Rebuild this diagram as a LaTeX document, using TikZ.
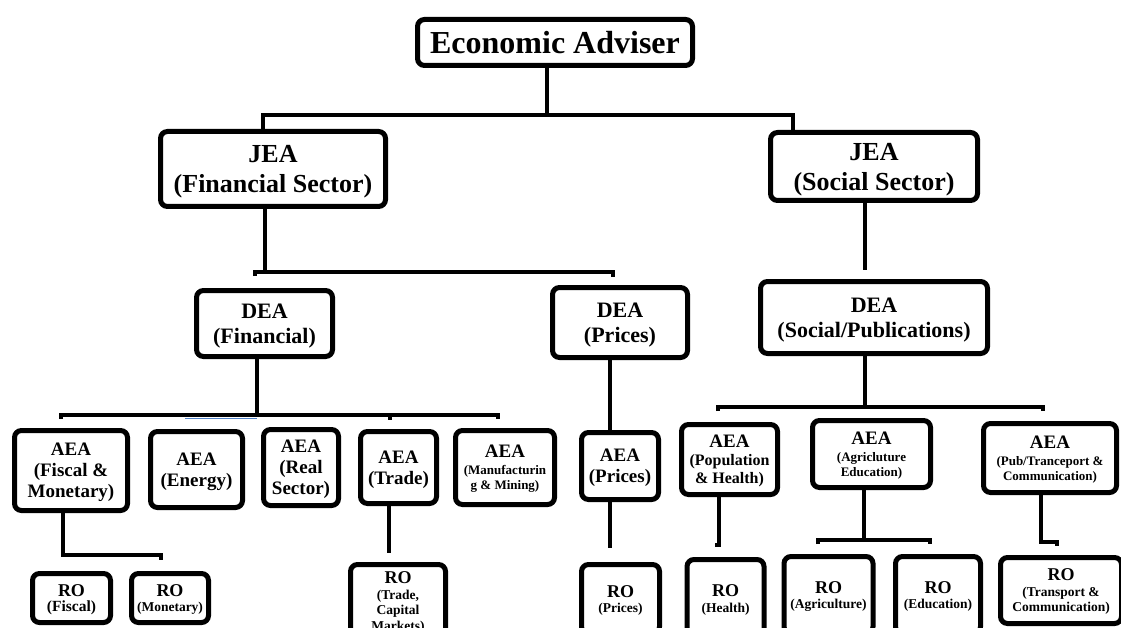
\documentclass[tikz,border=0pt]{standalone}
\usepackage{fontspec}
\setmainfont{Liberation Serif}
\newcommand\fsz[2]{\fontsize{#1}{#2}\selectfont}
\begin{document}
\begin{tikzpicture}[x=1pt,y=-1pt,
  box/.style={draw, line width=5pt, rounded corners=7pt, align=center, inner sep=0pt, text depth=0pt},
  toptitle/.style={font=\bfseries\fsz{32}{36}},
  jea/.style={font=\bfseries\fsz{26}{30}},
  dea/.style={font=\bfseries\fsz{22}{25}},
  aea/.style={font=\bfseries\fsz{19}{21}},
  aeasmall/.style={font=\bfseries\fsz{13}{15}},
  ro/.style={font=\bfseries\fsz{13.5}{15.5}},
  conn/.style={line width=4.5pt},
  stray/.style={line width=1.5pt, draw={rgb,255:red,80;green,130;blue,200}}]
\useasboundingbox (0,0) rectangle (1121,628);
\clip (0,0) rectangle (1121,628);

% ---------- boxes ----------
\node[box, toptitle, minimum width=275pt, minimum height=46pt] (EA) at (555,42.5) {Economic Adviser};

\node[box, jea, minimum width=225pt, minimum height=75pt] (JF) at (273,169) {JEA\\(Financial Sector)};
\node[box, jea, minimum width=207pt, minimum height=68pt] (JS) at (874,166.5) {JEA\\(Social Sector)};

\node[box, dea, minimum width=136pt, minimum height=66pt] (DF) at (264.5,323.5) {DEA\\(Financial)};
\node[box, dea, minimum width=135pt, minimum height=70pt] (DP) at (620,322.5) {DEA\\(Prices)};
\node[box, dea, minimum width=227pt, minimum height=72pt] (DS) at (874,317.5) {DEA\\(Social/Publications)};

\node[box, aea, minimum width=113pt, minimum height=80pt] (AF) at (71,470.5) {AEA\\(Fiscal \&\\Monetary)};
\node[box, aea, minimum width=92pt, minimum height=76pt] (AEn) at (196.5,469.5) {AEA\\(Energy)};
\node[box, aea, minimum width=75pt, minimum height=76pt] (AR) at (301,467.5) {AEA\\(Real\\Sector)};
\node[box, aea, minimum width=76pt, minimum height=72pt] (AT) at (398.5,467.5) {AEA\\(Trade)};
\node[box, aeasmall, minimum width=99pt, minimum height=74pt] (AM) at (505,467.5)
  {{\fsz{19}{21}AEA}\\[2pt](Manufacturin\\g \& Mining)};
\node[box, aea, minimum width=77pt, minimum height=67pt] (AP) at (620,466) {AEA\\(Prices)};
\node[box, font=\bfseries\fsz{16}{18}, minimum width=96pt, minimum height=70pt] (APo) at (729.5,459.5)
  {{\fsz{19}{21}AEA}\\(Population\\\& Health)};
\node[box, aeasmall, minimum width=118pt, minimum height=67pt] (AA) at (871.5,454)
  {{\fsz{19}{21}AEA}\\[2pt](Agricluture\\Education)};
\node[box, aeasmall, minimum width=133pt, minimum height=69pt] (APu) at (1050,458)
  {{\fsz{19}{21}AEA}\\[2pt](Pub/Tranceport \&\\Communication)};

\node[box, ro, minimum width=78pt, minimum height=49pt] (RF) at (71.5,598) {{\fsz{18}{20}RO}\\{\fsz{15.5}{17}(Fiscal)}};
\node[box, ro, minimum width=77pt, minimum height=49pt] (RM) at (170,598) {{\fsz{18}{20}RO}\\(Monetary)};
\node[box, ro, minimum width=95pt, minimum height=73pt] (RT) at (398,601) {{\fsz{18}{20}RO}\\(Trade,\\Capital\\Markets)};
\node[box, ro, minimum width=78pt, minimum height=69pt] (RP) at (620.5,599) {{\fsz{18}{20}RO}\\(Prices)};
\node[box, ro, minimum width=77pt, minimum height=78pt] (RH) at (725.5,598.5) {{\fsz{18}{20}RO}\\(Health)};
\node[box, ro, minimum width=89pt, minimum height=77pt] (RA) at (828.5,595) {{\fsz{18}{20}RO}\\(Agriculture)};
\node[box, ro, minimum width=85pt, minimum height=77pt] (RE) at (938,595) {{\fsz{18}{20}RO}\\(Education)};
\node[box, ro, minimum width=121pt, minimum height=66pt] (RTr) at (1061,590.5) {{\fsz{18}{20}RO}\\(Transport \&\\Communication)};

% ---------- junction points ----------
\coordinate (eaM) at (547,115);
\coordinate (eaL) at (263,115);
\coordinate (eaR) at (793,115);
\coordinate (jfM) at (265,272);
\coordinate (jfL) at (255,272);
\coordinate (jfR) at (613,272);
\coordinate (jsE) at (865,270);
\coordinate (dsM) at (865,407);
\coordinate (dsL) at (718,407);
\coordinate (dsR) at (1043,407);
\coordinate (dfM) at (257,415);
\coordinate (dfL) at (61,415);
\coordinate (dfR) at (498,415);
\coordinate (dfT) at (390,415);
\coordinate (dpX) at (610,400);
\coordinate (apE) at (610,548);
\coordinate (afM) at (63,555);
\coordinate (afR) at (161,555);
\coordinate (atE) at (389,553);
\coordinate (apoE) at (719,545);
\coordinate (aaM) at (864,540);
\coordinate (aaL) at (818,540);
\coordinate (aaR) at (930,540);
\coordinate (apuM) at (1041,542);
\coordinate (apuR) at (1057,542);

% ---------- connectors ----------
\draw[conn] ([xshift=-8pt,yshift=4pt]EA.south) -- (eaM);
\draw[conn] (JF.north -| eaL) -- (eaL) -- (eaR) -- (JS.north -| eaR);

\draw[conn] (JF.south -| jfM) -- (jfM);
\draw[conn] ([yshift=-4pt]jfL) -- (jfL) -- (jfR) -- ([yshift=-5pt]jfR);

\draw[conn] (JS.south -| jsE) -- (jsE);
\draw[conn] (DS.south -| dsM) -- (dsM);
\draw[conn] ([yshift=-4pt]dsL) -- (dsL) -- (dsR) -- ([yshift=-4pt]dsR);

\draw[stray] (185,418.5) -- (dfM |- 0,418.5);
\draw[conn] (DF.south -| dfM) -- (dfM);
\draw[conn] ([yshift=-4pt]dfL) -- (dfL) -- (dfR) -- ([yshift=-4pt]dfR);
\draw[conn, line width=3.5pt] (dfT) -- ([yshift=-5pt]dfT);

\draw[conn] (DP.south -| dpX) -- (AP.north -| dpX);
\draw[conn] (AP.south -| apE) -- (apE);

\draw[conn] (AF.south -| afM) -- (afM) -- (afR) -- ([yshift=-5pt]afR);
\draw[conn] (AT.south -| atE) -- (atE);
\draw[conn] (APo.south -| apoE) -- (apoE) -- ([xshift=-4pt]apoE);
\draw[conn] (AA.south -| aaM) -- (aaM);
\draw[conn] ([yshift=-4pt]aaL) -- (aaL) -- (aaR) -- ([yshift=-4pt]aaR);
\draw[conn] (APu.south -| apuM) -- (apuM) -- (apuR) -- ([yshift=-4pt]apuR);
\end{tikzpicture}
\end{document}
